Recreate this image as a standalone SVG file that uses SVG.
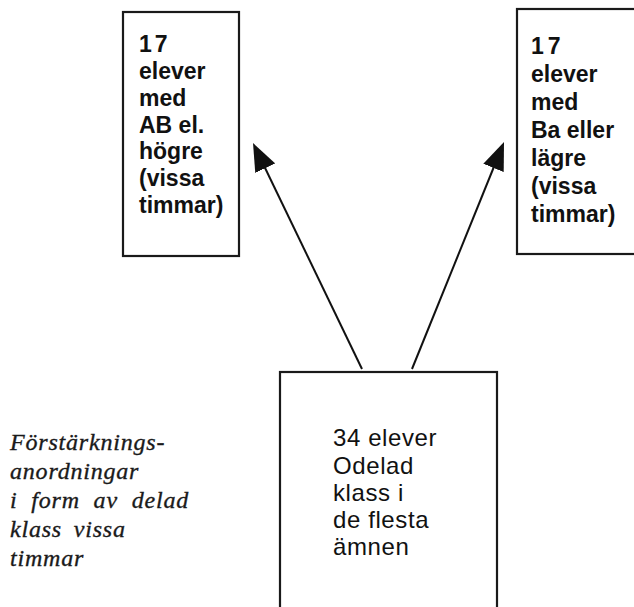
<svg xmlns="http://www.w3.org/2000/svg" width="634" height="607" viewBox="0 0 634 607">
<style>
.box{fill:#fff;stroke:#1a1a1a;stroke-width:2.2}
.bt{font-family:"Liberation Sans",Arial,sans-serif;font-weight:bold;font-size:23px;fill:#111}
.nt{font-family:"Liberation Sans",Arial,sans-serif;font-size:24px;fill:#111;letter-spacing:0.6px}
.it{font-family:"Liberation Serif","Times New Roman",serif;font-style:italic;font-size:24px;fill:#1a1a1a;stroke:#1a1a1a;stroke-width:0.35;letter-spacing:0.8px}
.ln{stroke:#111;stroke-width:2;fill:none}
</style>
<defs>
<marker id="ah" markerUnits="userSpaceOnUse" viewBox="0 0 28 22" refX="8" refY="11" markerWidth="28" markerHeight="22" orient="auto">
<path d="M0,0 L28,11 L0,22 z" fill="#111"/>
</marker>
</defs>
<rect width="634" height="607" fill="#fff"/>
<g id="connectors">
<line class="ln" x1="362" y1="369" x2="261.7" y2="161" marker-end="url(#ah)"/>
<line class="ln" x1="412" y1="369" x2="496.5" y2="160.5" marker-end="url(#ah)"/>
</g>
<g id="left">
<rect class="box" x="123" y="12" width="116" height="244"/>
<text class="bt" x="139"><tspan x="139" y="52" letter-spacing="3">17</tspan><tspan x="139" y="79">elever</tspan><tspan x="139" y="106">med</tspan><tspan x="139" y="133">AB el.</tspan><tspan x="139" y="159">högre</tspan><tspan x="139" y="186">(vissa</tspan><tspan x="139" y="213">timmar)</tspan></text>
</g>
<g id="right">
<rect class="box" x="517" y="9" width="130" height="245"/>
<text class="bt" x="531"><tspan x="531" y="54" letter-spacing="4">17</tspan><tspan x="531" y="82">elever</tspan><tspan x="531" y="110">med</tspan><tspan x="531" y="138">Ba eller</tspan><tspan x="531" y="166">lägre</tspan><tspan x="531" y="194">(vissa</tspan><tspan x="531" y="222">timmar)</tspan></text>
</g>
<g id="bottom">
<rect class="box" x="280" y="372" width="217" height="250"/>
<text class="nt" x="333"><tspan x="333" y="446">34 elever</tspan><tspan x="333" y="474">Odelad</tspan><tspan x="333" y="501">klass i</tspan><tspan x="333" y="528">de flesta</tspan><tspan x="333" y="555">ämnen</tspan></text>
</g>
<g id="note">
<text class="it" x="10"><tspan x="10" y="450">Förstärknings-</tspan><tspan x="10" y="479">anordningar</tspan><tspan x="10" y="508" word-spacing="7">i form av delad</tspan><tspan x="10" y="537" word-spacing="5">klass vissa</tspan><tspan x="10" y="566">timmar</tspan></text>
</g>
</svg>
